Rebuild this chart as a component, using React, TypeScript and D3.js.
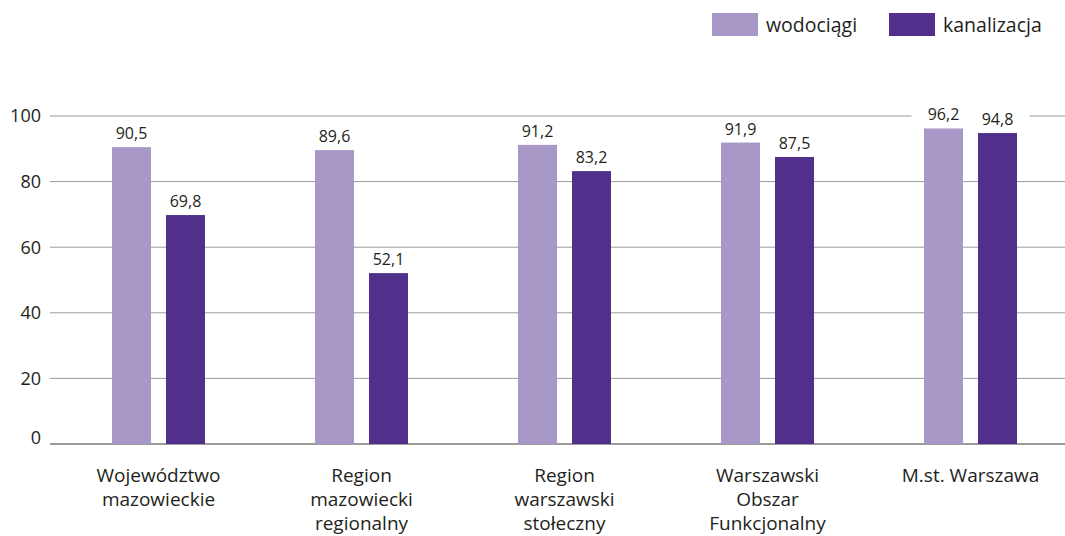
import React, { useEffect, useRef } from 'react';
import * as d3 from 'd3';

const WIDTH = 1065;
const HEIGHT = 536;

// dane
const categories = [
  'Województwo mazowieckie',
  'Region mazowiecki regionalny',
  'Region warszawski stołeczny',
  'Warszawski Obszar Funkcjonalny',
  'M.st. Warszawa',
];
const categoryLines = [
  ['Województwo', 'mazowieckie'],
  ['Region', 'mazowiecki', 'regionalny'],
  ['Region', 'warszawski', 'stołeczny'],
  ['Warszawski', 'Obszar', 'Funkcjonalny'],
  ['M.st. Warszawa'],
];
const seriesKeys = ['wodociagi', 'kanalizacja'];
const seriesNames = ['wodociągi', 'kanalizacja'];
const wodociagi = [90.5, 89.6, 91.2, 91.9, 96.2];
const kanalizacja = [69.8, 52.1, 83.2, 87.5, 94.8];
const yTicks = [0, 20, 40, 60, 80, 100];

const COLORS = ['#a898c7', '#51308c'];
const TEXT = '#231f20';
const FONT = '"Open Sans", "Noto Sans", sans-serif';

const App: React.FC = () => {
  const svgRef = useRef<SVGSVGElement>(null);

  useEffect(() => {
    document.body.style.margin = '0';
    if (!svgRef.current) return;
    const svg = d3.select(svgRef.current);
    svg.selectAll('*').remove();

    const values = [wodociagi, kanalizacja];

    // skala Y
    const y = d3.scaleLinear().domain([0, 100]).range([444, 116]);

    // skala X dla grup
    const x = d3.scaleBand<string>().domain(categories).range([57, 1072]).padding(0);
    const groupW = 93;
    const xSub = d3.scaleBand<string>()
      .domain(seriesKeys)
      .range([0, groupW])
      .paddingInner(15 / 54)
      .paddingOuter(0);

    // linie siatki
    const grid = svg.append('g');
    grid.selectAll('line')
      .data(yTicks)
      .enter()
      .append('line')
      .attr('x1', 50)
      .attr('x2', WIDTH)
      .attr('y1', d => y(d))
      .attr('y2', d => y(d))
      .attr('stroke', d => (d === 0 ? '#7a7a7a' : '#9a9a9a'))
      .attr('stroke-width', d => (d === 0 ? 1.4 : 1));

    // etykiety osi Y
    svg.append('g')
      .selectAll('text')
      .data(yTicks)
      .enter()
      .append('text')
      .attr('x', 41)
      .attr('y', d => y(d) + (d === 0 ? -6 : 0))
      .attr('dy', '0.35em')
      .attr('text-anchor', 'end')
      .style('font-family', FONT)
      .style('font-size', '18px')
      .style('fill', TEXT)
      .text(d => String(d));

    // słupki
    const groups = svg.selectAll('.grp')
      .data(categories)
      .enter()
      .append('g')
      .attr('class', 'grp')
      .attr('transform', d => `translate(${x(d)! + x.bandwidth() / 2 - groupW / 2},0)`);

    groups.selectAll('rect')
      .data((d, i) => seriesKeys.map((k, s) => ({ key: k, value: values[s][i], s })))
      .enter()
      .append('rect')
      .attr('x', d => xSub(d.key)!)
      .attr('y', d => y(d.value))
      .attr('width', xSub.bandwidth())
      .attr('height', d => y(0) - y(d.value))
      .attr('fill', d => COLORS[d.s]);

    // etykiety wartości (z białym tłem)
    const labels = groups.selectAll('.val')
      .data((d, i) => seriesKeys.map((k, s) => ({ key: k, value: values[s][i], s })))
      .enter()
      .append('g')
      .attr('class', 'val');

    labels.append('rect')
      .attr('x', d => xSub(d.key)! + xSub.bandwidth() / 2 - 32)
      .attr('y', d => y(d.value) - 25)
      .attr('width', 64)
      .attr('height', 19)
      .attr('fill', '#fff');

    labels.append('text')
      .attr('x', d => xSub(d.key)! + xSub.bandwidth() / 2)
      .attr('y', d => y(d.value) - 8)
      .attr('text-anchor', 'middle')
      .style('font-family', FONT)
      .style('font-size', '16px')
      .style('fill', TEXT)
      .text(d => d.value.toFixed(1).replace('.', ','));

    // etykiety kategorii
    const cat = svg.append('g')
      .selectAll('text')
      .data(categories)
      .enter()
      .append('text')
      .attr('x', d => x(d)! + x.bandwidth() / 2)
      .attr('y', 482)
      .attr('text-anchor', 'middle')
      .style('font-family', FONT)
      .style('font-size', '19px')
      .style('fill', TEXT);

    cat.selectAll('tspan')
      .data((d, i) => categoryLines[i])
      .enter()
      .append('tspan')
      .attr('x', function () {
        return (this.parentNode as SVGTextElement).getAttribute('x');
      })
      .attr('dy', (d, i) => (i === 0 ? 0 : 24))
      .text(d => d);

    // legenda
    const legendX = [712, 889];
    const legend = svg.selectAll('.legend')
      .data(seriesNames)
      .enter()
      .append('g')
      .attr('class', 'legend')
      .attr('transform', (d, i) => `translate(${legendX[i]},13)`);

    legend.append('rect')
      .attr('width', 46)
      .attr('height', 23)
      .attr('fill', (d, i) => COLORS[i]);

    legend.append('text')
      .attr('x', 54)
      .attr('y', 19)
      .style('font-family', FONT)
      .style('font-size', '19.5px')
      .style('fill', TEXT)
      .text(d => d);
  }, []);

  return <svg ref={svgRef} width={WIDTH} height={HEIGHT} style={{ display: 'block', background: '#fff' }} />;
};

export default App;
